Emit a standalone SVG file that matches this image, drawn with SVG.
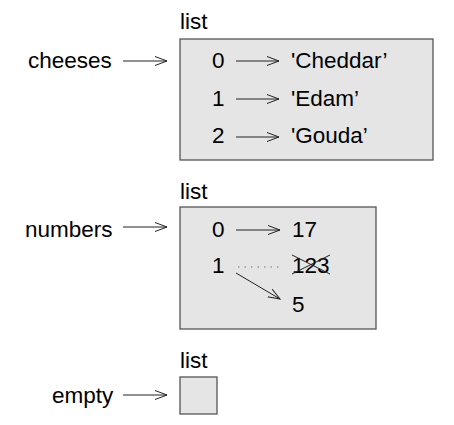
<svg xmlns="http://www.w3.org/2000/svg" width="454" height="425" viewBox="0 0 454 425">
<style>
text{font-family:"Liberation Sans",Arial,sans-serif;font-size:22.5px;fill:#000}
.box{fill:#e5e5e5;stroke:#555;stroke-width:1.3}
.c{stroke:#222;stroke-width:1;fill:none}
</style>
<defs>
<marker id="ah" markerUnits="userSpaceOnUse" markerWidth="14" markerHeight="12" refX="12" refY="5" orient="auto">
<path d="M0,0.5 L12,5 L0,9.5" fill="none" stroke="#222" stroke-width="1"/>
</marker>
</defs>
<rect width="454" height="425" fill="#fff"/>
<g id="cheeses">
<text x="28" y="68">cheeses</text>
</g>
<g id="list1">
<text x="180" y="29">list</text>
<rect class="box" x="180" y="39" width="253" height="121"/>
<text x="212" y="68">0</text>
<text x="212" y="106">1</text>
<text x="212" y="143">2</text>
<text x="291" y="68">'Cheddar’</text>
<text x="291" y="106">'Edam’</text>
<text x="291" y="143">'Gouda’</text>
</g>
<g id="numbers">
<text x="25" y="237">numbers</text>
</g>
<g id="list2">
<text x="180" y="199">list</text>
<rect class="box" x="180" y="207" width="196" height="122"/>
<text x="212" y="237">0</text>
<text x="212" y="273">1</text>
<text x="292" y="237">17</text>
<text x="292" y="273">123</text>
<text x="292" y="312">5</text>
<line class="c" x1="292" y1="255" x2="330" y2="274"/>
<line class="c" x1="292" y1="274" x2="330" y2="255"/>
</g>
<g id="empty">
<text x="52" y="403">empty</text>
</g>
<g id="list3">
<text x="180" y="368">list</text>
<rect class="box" x="180" y="377" width="37" height="37"/>
</g>
<g id="connectors">
<line class="c" x1="123" y1="61" x2="167" y2="61" marker-end="url(#ah)"/>
<line class="c" x1="236" y1="61" x2="279" y2="61" marker-end="url(#ah)"/>
<line class="c" x1="236" y1="99" x2="279" y2="99" marker-end="url(#ah)"/>
<line class="c" x1="236" y1="137" x2="279" y2="137" marker-end="url(#ah)"/>
<line class="c" x1="123" y1="227" x2="167" y2="227" marker-end="url(#ah)"/>
<line class="c" x1="236" y1="230" x2="280" y2="230" marker-end="url(#ah)"/>
<line x1="238" y1="267" x2="280" y2="267" stroke="#777" stroke-width="1.2" stroke-dasharray="1.5,5"/>
<line class="c" x1="236" y1="273" x2="280" y2="299" marker-end="url(#ah)"/>
<line class="c" x1="123" y1="395" x2="167" y2="395" marker-end="url(#ah)"/>
</g>
</svg>
